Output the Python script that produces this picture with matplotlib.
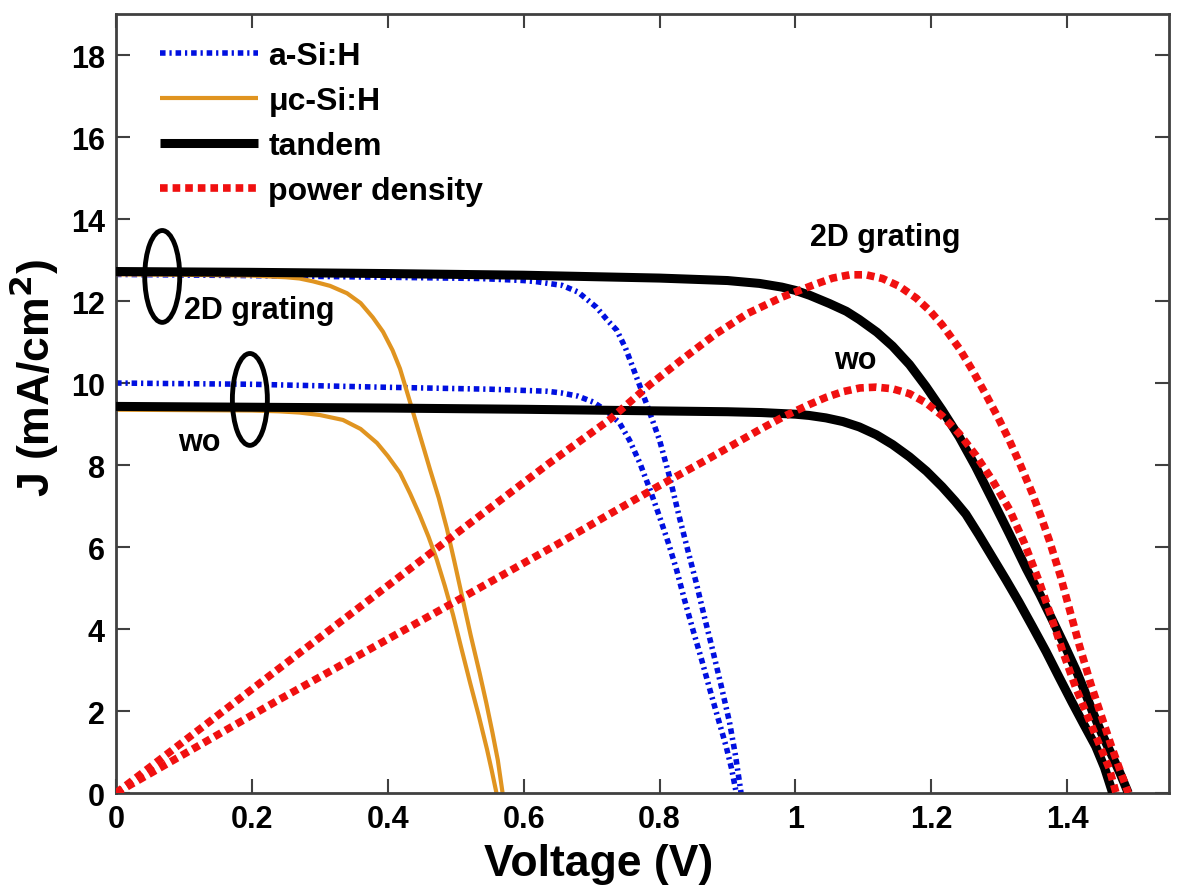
import matplotlib
matplotlib.use("Agg")
import matplotlib.pyplot as plt
from matplotlib.patches import Ellipse
from matplotlib.lines import Line2D

plt.rcParams['font.family'] = ['Liberation Sans', 'DejaVu Sans']
plt.rcParams['font.weight'] = 'bold'

# ---- data ----
v_asi_2d = [0, 0.2, 0.4, 0.535, 0.6, 0.62, 0.657, 0.68, 0.707, 0.725, 0.737, 0.75, 0.766, 0.783, 0.80,
            0.815, 0.829, 0.842, 0.854, 0.866, 0.878, 0.891, 0.903, 0.912, 0.92]
j_asi_2d = [12.65, 12.62, 12.58, 12.55, 12.5, 12.47, 12.38, 12.22, 11.85, 11.5, 11.29, 10.85, 10.15, 9.4, 8.61,
            7.7, 6.74, 5.9, 5.13, 4.3, 3.5, 2.6, 1.73, 0.9, 0.0]

v_asi_wo = [0, 0.2, 0.388, 0.55, 0.634, 0.655, 0.68, 0.702, 0.722, 0.741, 0.756, 0.771, 0.786, 0.80,
            0.813, 0.825, 0.837, 0.849, 0.862, 0.874, 0.886, 0.898, 0.906, 0.913]
j_asi_wo = [10.0, 9.97, 9.9, 9.85, 9.8, 9.76, 9.68, 9.54, 9.32, 9.03, 8.6, 8.05, 7.4, 6.74,
            6.1, 5.45, 4.7, 3.99, 3.25, 2.53, 1.83, 1.14, 0.6, 0.0]

v_muc_2d = [0, 0.1, 0.2, 0.25, 0.27, 0.29, 0.315, 0.34, 0.36, 0.378, 0.393, 0.407, 0.418, 0.428, 0.437,
            0.445, 0.454, 0.462, 0.475, 0.487, 0.498, 0.51, 0.522, 0.535, 0.545, 0.554, 0.562, 0.569]
j_muc_2d = [12.65, 12.64, 12.62, 12.58, 12.55, 12.48, 12.37, 12.19, 11.95, 11.6, 11.25, 10.8, 10.35, 9.8, 9.3,
            8.85, 8.35, 7.9, 7.2, 6.45, 5.65, 4.75, 3.85, 2.94, 2.2, 1.48, 0.8, 0.0]

v_muc_wo = [0, 0.1, 0.2, 0.24, 0.27, 0.3, 0.334, 0.36, 0.384, 0.4, 0.418, 0.433, 0.447, 0.46, 0.472,
            0.484, 0.496, 0.508, 0.521, 0.534, 0.546, 0.553, 0.56]
j_muc_wo = [9.35, 9.34, 9.33, 9.31, 9.28, 9.22, 9.1, 8.88, 8.54, 8.22, 7.81, 7.3, 6.78, 6.25, 5.7,
            5.05, 4.35, 3.55, 2.7, 1.88, 1.07, 0.55, 0.0]

v_tan_2d = [0, 0.2, 0.4, 0.6, 0.8, 0.9, 0.947, 0.98, 1.0, 1.021, 1.05, 1.075, 1.094, 1.12, 1.143, 1.168,
            1.192, 1.216, 1.241, 1.265, 1.29, 1.315, 1.34, 1.36, 1.378, 1.396, 1.413, 1.425, 1.437, 1.451,
            1.465, 1.478, 1.49]
j_tan_2d = [12.72, 12.7, 12.67, 12.63, 12.56, 12.5, 12.43, 12.34, 12.26, 12.14, 11.94, 11.75, 11.55, 11.24, 10.9, 10.45,
            9.92, 9.34, 8.69, 7.97, 7.15, 6.32, 5.47, 4.84, 4.23, 3.61, 3.0, 2.52, 2.0, 1.45,
            0.95, 0.48, 0.0]

v_tan_wo = [0, 0.2, 0.4, 0.6, 0.8, 0.9, 0.95, 1.0, 1.02, 1.045, 1.07, 1.094, 1.119, 1.143, 1.168, 1.193,
            1.216, 1.235, 1.251, 1.27, 1.29, 1.31, 1.329, 1.349, 1.369, 1.388, 1.407, 1.425, 1.442, 1.455, 1.467]
j_tan_wo = [9.43, 9.41, 9.39, 9.36, 9.32, 9.3, 9.28, 9.24, 9.21, 9.15, 9.06, 8.93, 8.74, 8.5, 8.2, 7.85,
            7.47, 7.12, 6.8, 6.3, 5.75, 5.2, 4.66, 4.06, 3.45, 2.83, 2.22, 1.66, 1.14, 0.62, 0.0]

v_p_2d = [0, 0.237, 0.481, 0.638, 0.726, 0.785, 0.835, 0.883, 0.93, 0.981, 1.031, 1.055, 1.08, 1.104, 1.128,
          1.153, 1.178, 1.198, 1.216, 1.241, 1.261, 1.281, 1.298, 1.315, 1.332, 1.349, 1.362, 1.374, 1.39,
          1.404, 1.418, 1.435, 1.451, 1.465, 1.478, 1.49]
p_2d = [0, 3.0, 6.08, 8.05, 9.1, 9.95, 10.6, 11.2, 11.7, 12.1, 12.42, 12.56, 12.64, 12.64, 12.55,
        12.36, 12.07, 11.76, 11.42, 10.85, 10.3, 9.7, 9.17, 8.6, 7.97, 7.3, 6.72, 6.15, 5.3,
        4.45, 3.6, 2.65, 1.85, 1.15, 0.55, 0.0]

v_p_wo = [0, 0.237, 0.481, 0.653, 0.726, 0.8, 0.875, 0.947, 0.985, 1.021, 1.045, 1.07, 1.095, 1.119, 1.143,
          1.168, 1.192, 1.216, 1.241, 1.266, 1.29, 1.315, 1.337, 1.359, 1.376, 1.393, 1.412, 1.432, 1.447,
          1.462, 1.472]
p_wo = [0, 2.25, 4.5, 6.1, 6.8, 7.5, 8.18, 8.86, 9.2, 9.48, 9.65, 9.79, 9.88, 9.9, 9.86,
        9.74, 9.52, 9.2, 8.77, 8.23, 7.63, 6.92, 6.1, 5.15, 4.33, 3.48, 2.6, 1.8, 1.2,
        0.6, 0.0]

x_ticks = [0, 0.2, 0.4, 0.6, 0.8, 1.0, 1.2, 1.4]
x_ticklabels = ['0', '0.2', '0.4', '0.6', '0.8', '1', '1.2', '1.4']
y_ticks = [0, 2, 4, 6, 8, 10, 12, 14, 16, 18]

labels = ['a-Si:H', 'μc-Si:H', 'tandem', 'power density']

# ---- styles ----
c_blue = '#0010e0'
c_orange = '#e09420'
c_black = '#000000'
c_red = '#f01010'

fig = plt.figure(figsize=(12, 8.95), dpi=100)
ax = fig.add_axes([0.0967, 0.1128, 0.8775, 0.8704])

blue_kw = dict(color=c_blue, lw=4.0, linestyle=(0, (1.0, 0.7, 0.4, 0.7)), dash_capstyle='butt', zorder=2)
orange_kw = dict(color=c_orange, lw=3.0, solid_capstyle='butt', solid_joinstyle='round', zorder=2)
black_kw = dict(color=c_black, lw=6.5, solid_capstyle='butt', solid_joinstyle='round', zorder=3)
red_kw = dict(color=c_red, lw=5.5, linestyle=(0, (1.0, 0.65)), dash_capstyle='butt', zorder=4)

ax.plot(v_asi_2d, j_asi_2d, **blue_kw)
ax.plot(v_asi_wo, j_asi_wo, **blue_kw)
ax.plot(v_muc_2d, j_muc_2d, **orange_kw)
ax.plot(v_muc_wo, j_muc_wo, **orange_kw)
ax.plot(v_tan_2d, j_tan_2d, **black_kw)
ax.plot(v_tan_wo, j_tan_wo, **black_kw)
ax.plot(v_p_2d, p_2d, **red_kw)
ax.plot(v_p_wo, p_wo, **red_kw)

# ellipses grouping curves
ax.add_patch(Ellipse((0.068, 12.6), 0.0515, 2.24, fill=False, lw=3.5, ec='black', zorder=5))
ax.add_patch(Ellipse((0.197, 9.6), 0.0515, 2.24, fill=False, lw=3.5, ec='black', zorder=5))

fs = 22
ax.text(0.1, 11.58, '2D grating', fontsize=fs, fontweight='bold', ha='left', va='baseline')
ax.text(0.091, 8.37, 'wo', fontsize=fs, fontweight='bold', ha='left', va='baseline')
ax.text(1.021, 13.36, '2D grating', fontsize=fs, fontweight='bold', ha='left', va='baseline')
ax.text(1.057, 10.36, 'wo', fontsize=fs, fontweight='bold', ha='left', va='baseline')

ax.set_xlim(0, 1.55)
ax.set_ylim(0, 19)
ax.set_xticks(x_ticks)
ax.set_xticklabels(x_ticklabels)
ax.set_yticks(y_ticks)
ax.tick_params(direction='in', length=10, width=1.5, top=True, right=True,
               labelsize=fs, pad=8, color='#404040')
for lab in ax.get_xticklabels() + ax.get_yticklabels():
    lab.set_fontweight('bold')
for sp in ax.spines.values():
    sp.set_linewidth(2)
    sp.set_color('#404040')

ax.set_xlabel('Voltage (V)', fontsize=32, fontweight='bold')
ax.set_ylabel('J (mA/cm$^\\mathbf{2}$)', fontsize=32, fontweight='bold')
ax.xaxis.set_label_coords(0.458, -0.064)
ax.yaxis.label.set_va('center')
ax.yaxis.set_label_coords(-0.078, 0.534)

handles = [
    Line2D([], [], **{k: v for k, v in blue_kw.items() if k != 'zorder'}),
    Line2D([], [], **{k: v for k, v in orange_kw.items() if k != 'zorder'}),
    Line2D([], [], **{k: v for k, v in black_kw.items() if k != 'zorder'}),
    Line2D([], [], **{k: v for k, v in red_kw.items() if k != 'zorder'}),
]
leg = ax.legend(handles, labels, loc='upper left', bbox_to_anchor=(0.03, 0.982),
                frameon=False, handlelength=3.07, handletextpad=0.31,
                labelspacing=0.47, borderaxespad=0, prop={'weight': 'bold', 'size': 23})

fig.savefig('out.png', dpi=100)
